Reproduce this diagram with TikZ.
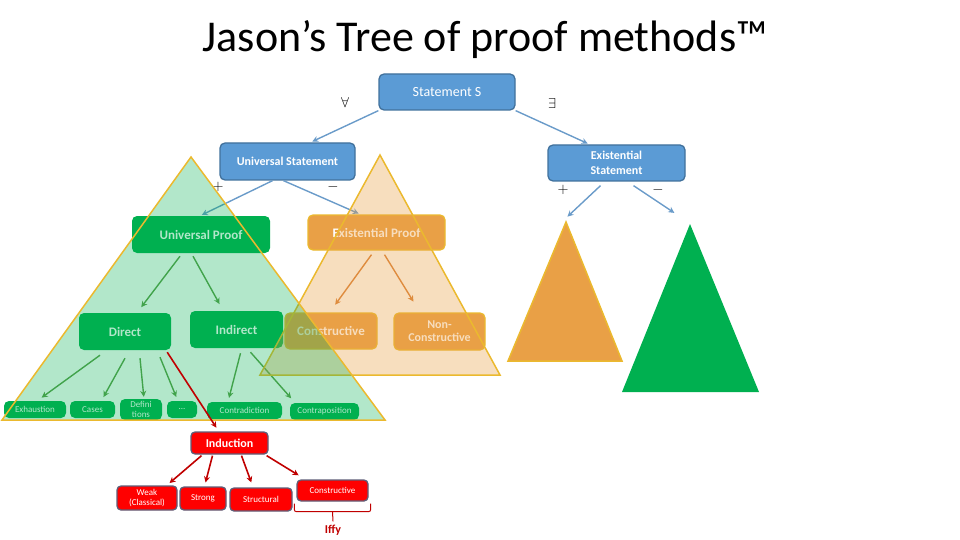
\documentclass[tikz,border=0pt]{standalone}
\usepackage{fontspec}
\setmainfont{Carlito}
\usetikzlibrary{arrows.meta,positioning}

\definecolor{boxblue}{HTML}{5B9BD5}
\definecolor{boxblueline}{HTML}{41719C}
\definecolor{arrblue}{HTML}{6A9BC9}
\definecolor{boxgreen}{HTML}{00B050}
\definecolor{arrgreen}{HTML}{5E9E4A}
\definecolor{boxorange}{HTML}{E9A046}
\definecolor{arrorange}{HTML}{D9823B}
\definecolor{triborder}{HTML}{EBB92E}
\definecolor{redline}{HTML}{5E5E78}
\definecolor{darkred}{HTML}{C00000}

\begin{document}
\begin{tikzpicture}[x=1pt,y=-1pt,
    blueBox/.style={draw=boxblueline, line width=1.3pt, fill=boxblue, rounded corners=5pt,
      text=white, align=center, inner sep=1pt},
    greenBox/.style={fill=boxgreen, rounded corners=5pt, text=white, align=center, inner sep=1pt},
    orangeBox/.style={draw=triborder, line width=1.3pt, fill=boxorange, rounded corners=5pt,
      text=white, align=center, inner sep=1pt},
    redBox/.style={draw=redline, line width=1.3pt, fill=red, rounded corners=4pt,
      text=white, align=center, inner sep=1pt},
    blueArrow/.style={draw=arrblue, line width=1.4pt, -{Stealth[length=6pt,width=6pt]}, shorten >=2pt},
    greenArrow/.style={draw=arrgreen, line width=1.4pt, -{Stealth[length=6pt,width=6pt]}, shorten >=2pt},
    orangeArrow/.style={draw=arrorange, line width=1.4pt, -{Stealth[length=6pt,width=6pt]}, shorten >=2pt},
    redArrow/.style={draw=darkred, line width=1.6pt, -{Stealth[length=6pt,width=6pt]}, shorten >=2pt},
    triangle/.style={draw=triborder, line width=1.5pt, line join=miter},
    sign/.style={font=\fontsize{14}{14}\selectfont},
    bigText/.style={font=\fontsize{13}{15}\selectfont\bfseries},
    smallText/.style={font=\fontsize{9}{10}\selectfont}
  ]
  \useasboundingbox (0,0) rectangle (960,540);

  % Title
  \node[font=\fontsize{44}{50}\selectfont] (title) at (485,40) {Jason’s Tree of proof methods™};

  % Statements
  \node[blueBox, minimum width=136pt, minimum height=36pt, font=\fontsize{14}{16}\selectfont] (stmt)
    at (447,92) {Statement S};
  \node[blueBox, minimum width=135pt, minimum height=37pt, font=\fontsize{12}{14}\selectfont\bfseries] (us)
    at (287.5,161.5) {Universal Statement};
  \node[blueBox, minimum width=137pt, minimum height=36pt, font=\fontsize{12}{15}\selectfont\bfseries] (es)
    at (616.5,163) {Existential\\ Statement};

  \node[sign] (forall) at (345,103) {$\forall$};
  \node[sign] (exists) at (552,104) {$\exists$};
  \node[sign] (usplus) at (218,187) {$+$};
  \node[sign] (usminus) at (333,187) {$-$};
  \node[sign] (esplus) at (563,190) {$+$};
  \node[sign] (esminus) at (658,190) {$-$};

  % Proof boxes
  \node[greenBox, bigText, minimum width=138pt, minimum height=37pt] (uproof) at (201,234.5) {Universal Proof};
  \node[orangeBox, bigText, minimum width=137pt, minimum height=35pt] (eproof) at (376.5,232.5) {Existential Proof};
  \node[orangeBox, bigText, minimum width=92pt, minimum height=36pt] (constr) at (331,331) {Constructive};
  \node[orangeBox, minimum width=91pt, minimum height=37pt, font=\fontsize{12}{13}\selectfont\bfseries] (nonconstr)
    at (439.5,331.5) {Non-\\ Constructive};
  \node[greenBox, bigText, minimum width=92pt, minimum height=37pt] (direct) at (125,331.5) {Direct};
  \node[greenBox, bigText, minimum width=93pt, minimum height=37pt] (indirect) at (236.5,329.5) {Indirect};

  \draw[blueArrow] (stmt.south west) -- ([xshift=23pt]us.north);
  \draw[blueArrow] (stmt.south east) -- ([xshift=-27pt]es.north);
  \draw[blueArrow] ([xshift=-15pt]us.south) -- ([xshift=-1pt]uproof.north);
  \draw[blueArrow] ([xshift=-4pt]us.south) -- ([xshift=-16pt]eproof.north);

  \draw[orangeArrow] ([xshift=-5pt,yshift=-4pt]eproof.south) -- ([xshift=3pt,yshift=6pt]constr.north);
  \draw[orangeArrow] ([xshift=8pt,yshift=-4pt]eproof.south) -- ([xshift=-25pt,yshift=9pt]nonconstr.north);
  \draw[greenArrow] ([xshift=-21pt,yshift=-3pt]uproof.south) -- ([xshift=15pt,yshift=4pt]direct.north);
  \draw[greenArrow] ([xshift=-8pt,yshift=-3pt]uproof.south) -- ([xshift=-16pt,yshift=5pt]indirect.north);

  % Bottom row
  \node[greenBox, smallText, minimum width=62pt, minimum height=17pt] (exh) at (35,409.5) {Exhaustion};
  \node[greenBox, smallText, minimum width=45pt, minimum height=17pt] (cases) at (92.5,409.5) {Cases};
  \node[greenBox, smallText, minimum width=42pt, minimum height=21pt] (defin) at (141,409.5) {Defini\\ tions};
  \node[greenBox, smallText, minimum width=30pt, minimum height=17pt] (dots) at (182,409.5) {...};
  \node[greenBox, smallText, minimum width=75pt, minimum height=17pt] (contra) at (244.5,410.5) {Contradiction};
  \node[greenBox, smallText, minimum width=69pt, minimum height=17pt] (contrap) at (324.5,411.5) {Contraposition};

  \draw[greenArrow] ([xshift=-25pt,yshift=-5pt]direct.south) -- ([xshift=5pt,yshift=2pt]exh.north);
  \draw[greenArrow] ([yshift=-8pt]direct.south) -- ([xshift=10pt,yshift=2pt]cases.north);
  \draw[greenArrow] ([xshift=15pt,yshift=-8pt]direct.south) -- ([xshift=3pt]defin.north);
  \draw[greenArrow] ([xshift=35pt,yshift=-7pt]direct.south) -- ([xshift=-5pt,yshift=2pt]dots.north);
  \draw[greenArrow] ([xshift=4pt,yshift=-5pt]indirect.south) -- ([xshift=-16pt,yshift=2pt]contra.north);
  \draw[greenArrow] ([xshift=14pt,yshift=-4pt]indirect.south) -- ([xshift=-32pt,yshift=3pt]contrap.north);

  % Triangles
  \filldraw[triangle, fill=boxorange, fill opacity=0.35] (380,155) -- (260,375) -- (500,375) -- cycle;
  \filldraw[triangle, fill=boxgreen, fill opacity=0.3] (191,157) -- (2,420) -- (385,420) -- cycle;

  % Induction
  \node[redBox, minimum width=77pt, minimum height=22pt, font=\fontsize{12}{14}\selectfont\bfseries] (induction)
    at (229.5,443) {Induction};
  \node[redBox, smallText, minimum width=60pt, minimum height=24pt] (weak) at (147,498) {Weak\\ (Classical)};
  \node[redBox, smallText, minimum width=46pt, minimum height=23pt] (strong) at (203,498.5) {Strong};
  \node[redBox, smallText, minimum width=62pt, minimum height=23pt] (structural) at (261,499.5) {Structural};
  \node[redBox, smallText, minimum width=71pt, minimum height=21pt] (iconstr) at (332.5,490.5) {Constructive};
  \node[text=darkred, font=\fontsize{12}{14}\selectfont\bfseries] (iffy) at (333,530) {Iffy};

  \draw[redArrow] ([xshift=-4pt,yshift=-2pt]direct.south east) -- ([xshift=-12pt,yshift=2pt]induction.north);
  \draw[redArrow] ([xshift=-28pt,yshift=-1pt]induction.south) -- ([xshift=21pt,yshift=1pt]weak.north);
  \draw[redArrow] ([xshift=-17pt,yshift=-1pt]induction.south) -- ([xshift=2pt,yshift=2pt]strong.north);
  \draw[redArrow] ([xshift=12pt,yshift=-1pt]induction.south) -- ([xshift=-9pt,yshift=3pt]structural.north);
  \draw[redArrow] ([xshift=-2pt,yshift=-1pt]induction.south east) -- ([xshift=4pt,yshift=3pt]iconstr.north west);

  % Brace under constructive induction
  \draw[darkred, line width=1pt, rounded corners=2pt]
    ([xshift=-2pt,yshift=-2pt]iconstr.south west) -- ++(0,8) -- ([xshift=2pt,yshift=-10pt]iconstr.south east)
    -- ([xshift=2pt,yshift=-2pt]iconstr.south east);
  \draw[darkred, line width=1pt] ([yshift=-10pt]iconstr.south) -- (iffy.north);

  % Existential statement subtrees
  \coordinate (otop) at (566,222);
  \coordinate (gtop) at (690,224);
  \draw[blueArrow] ([xshift=-16pt,yshift=-4pt]es.south) -- ([yshift=4pt]otop);
  \draw[blueArrow] ([xshift=17pt,yshift=-4pt]es.south) -- ([xshift=-14pt,yshift=10pt]gtop);
  \filldraw[triangle, fill=boxorange] (otop) -- (508,361) -- (622,361) -- cycle;
  \fill[boxgreen] (gtop) -- (622,392) -- (759,392) -- cycle;
\end{tikzpicture}
\end{document}
